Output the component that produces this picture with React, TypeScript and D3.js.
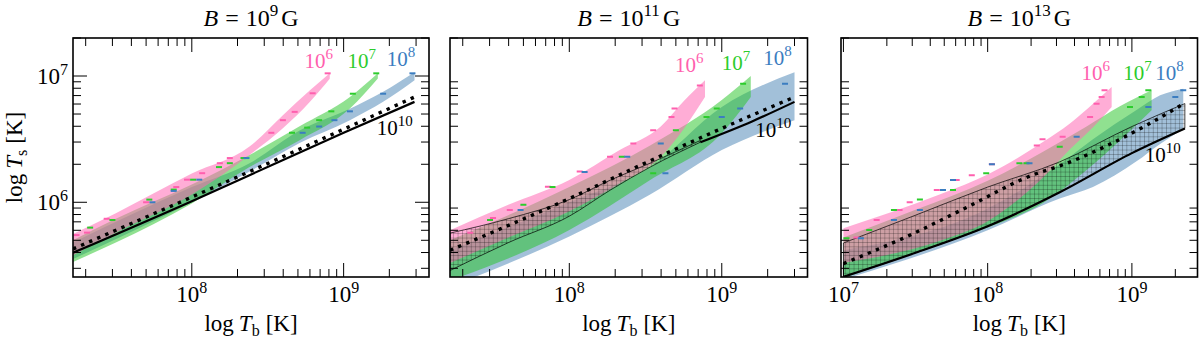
import React from "react";
import * as d3 from "d3";

const W = 1200;
const H = 339;
const FONT = "'Liberation Serif', 'DejaVu Serif', serif";

// frame geometry
const top = 38;
const bottom = 277;
const frames = [
  { left: 73, right: 429 },
  { left: 450, right: 807.5 },
  { left: 841, right: 1197.5 },
];

// axis domains (K)
const xDomainA = [1.65e7, 3.65e9];
const xDomainB = [9.62e6, 2.85e9];
const yDomain = [2.56e5, 2.0e7];

const titleExp = ["9", "11", "13"];

// ---- B = 1e9 G : [Tb, Ts low, Ts high]
const pink1 = [
  [1.65e7, 3.8e5, 5.6e5],
  [3.16e7, 5.75e5, 8.2e5],
  [1.0e8, 1.15e6, 1.69e6],
  [2.4e8, 2.37e6, 2.76e6],
  [3.98e8, 3.85e6, 4.9e6],
  [6.0e8, 6.24e6, 7.7e6],
  [8.1e8, 9.5e6, 1.05e7],
];
const green1 = [
  [1.65e7, 3.37e5, 5.0e5],
  [3.16e7, 4.8e5, 7.4e5],
  [1.0e8, 9.8e5, 1.38e6],
  [2.4e8, 1.9e6, 2.37e6],
  [5.13e8, 3.1e6, 4.0e6],
  [1.1e9, 5.52e6, 6.82e6],
  [1.68e9, 9.55e6, 1.05e7],
];
const blue1 = [
  [1.65e7, 3.55e5, 4.8e5],
  [1.0e8, 1.0e6, 1.32e6],
  [2.4e8, 1.75e6, 2.04e6],
  [5.13e8, 2.95e6, 3.7e6],
  [1.1e9, 4.47e6, 5.5e6],
  [1.82e9, 6.24e6, 7.5e6],
  [2.93e9, 9.25e6, 1.07e7],
];
const solid1 = [[1.65e7, 3.98e5], [1.0e8, 1.02e6], [2.4e8, 1.64e6], [1.0e9, 3.55e6], [2.93e9, 6.24e6]];
const dotted1 = [[1.65e7, 4.27e5], [1.0e8, 1.1e6], [2.4e8, 1.75e6], [1.0e9, 3.79e6], [2.93e9, 6.82e6]];
const hatch1: number[][] = [];
const pinkDash1 = [
  [7.85e8, 1.05e7], [6.25e8, 7.3e6], [4.76e8, 5.2e6], [3.98e8, 4.47e6], [3.34e8, 3.55e6],
  [1.78e8, 2.24e6], [1.53e8, 2.04e6], [1.17e8, 1.7e6], [9.3e7, 1.51e6], [7.9e7, 1.32e6],
  [5.0e7, 1.0e6], [2.75e7, 7.4e5], [2.04e7, 5.75e5], [1.74e7, 5.5e5],
];
const greenDash1 = [
  [1.64e9, 1.05e7], [1.15e9, 7.24e6], [8.3e8, 5.25e6], [6.9e8, 4.47e6], [5.75e8, 3.9e6],
  [4.57e8, 3.55e6], [2.19e8, 2.24e6], [1.78e8, 2.04e6], [1.51e8, 1.9e6], [1.02e8, 1.51e6],
  [7.6e7, 1.26e6], [5.25e7, 1.05e6], [3.0e7, 7.24e5], [2.14e7, 6.3e5],
];
const blueDash1 = [
  [2.84e9, 1.05e7], [1.82e9, 7.24e6], [1.1e9, 5.25e6], [8.7e8, 4.47e6], [5.37e8, 3.55e6],
  [6.9e8, 3.98e6], [2.29e8, 2.24e6], [1.12e8, 1.51e6], [7.6e7, 1.23e6], [5.5e7, 1.0e6],
];
// label anchors: [Tb, Ts] for 1e6, 1e7, 1e8, 1e10
const labels1 = [[5.53e8, 1.15e7], [1.06e9, 1.15e7], [1.92e9, 1.19e7], [1.65e9, 3.39e6]];

// ---- B = 1e11 G
const pink2 = [
  [1.65e7, 3.3e5, 6.0e5],
  [3.98e7, 5.25e5, 9.55e5],
  [1.0e8, 8.5e5, 1.5e6],
  [2.14e8, 1.41e6, 2.59e6],
  [3.98e8, 2.29e6, 3.98e6],
  [5.62e8, 3.8e6, 6.31e6],
  [7.76e8, 6.82e6, 9.25e6],
];
const green2 = [
  [1.65e7, 2.4e5, 5.0e5],
  [1.0e8, 6.03e5, 1.32e6],
  [3.39e8, 1.5e6, 2.82e6],
  [1.0e9, 3.52e6, 6.46e6],
  [1.55e9, 6.82e6, 1.0e7],
];
const blue2 = [
  [1.65e7, 2.14e5, 4.17e5],
  [1.0e8, 5.37e5, 1.0e6],
  [3.39e8, 1.15e6, 1.9e6],
  [1.0e9, 2.59e6, 5.69e6],
  [3.0e9, 4.47e6, 1.07e7],
];
const hatch2 = [
  [1.65e7, 2.88e5, 5.7e5],
  [3.98e7, 4.79e5, 7.41e5],
  [1.0e8, 7.76e5, 1.05e6],
  [1.86e8, 1.25e6, 1.5e6],
  [3.39e8, 1.9e6, 2.04e6],
  [7.24e8, 2.99e6, 3.09e6],
];
const solid2 = [[7.24e8, 2.99e6], [1.58e9, 4.37e6], [3.0e9, 6.24e6]];
const dotted2 = [[1.65e7, 4.17e5], [1.0e8, 1.07e6], [3.02e8, 2.0e6], [9.77e8, 3.8e6], [2.95e9, 6.76e6]];
const pinkDash2 = [
  [7.18e8, 8.43e6], [4.9e8, 5.52e6], [4.68e8, 4.74e6], [3.55e8, 3.72e6], [2.63e8, 2.92e6],
  [1.85e8, 2.29e6], [1.17e8, 1.75e6], [7.24e7, 1.33e6], [4.07e7, 8.7e5], [3.16e7, 7.5e5],
  [2.24e7, 5.75e5],
];
const greenDash2 = [
  [1.38e9, 8.7e6], [9.27e8, 5.52e6], [7.94e8, 4.74e6], [5.0e8, 3.72e6], [3.55e8, 1.7e6],
  [2.21e8, 2.29e6], [7.76e7, 1.32e6], [5.0e7, 9.55e5], [3.02e7, 7.24e5],
];
const blueDash2 = [
  [2.6e9, 8.7e6], [1.32e9, 5.52e6], [1.0e9, 4.74e6], [3.98e8, 2.92e6], [4.27e8, 1.7e6],
  [2.4e8, 2.29e6], [1.26e8, 1.74e6], [4.79e7, 8.7e5],
];
const labels2 = [[4.93e8, 1.07e7], [1.0e9, 1.11e7], [1.87e9, 1.22e7], [1.66e9, 3.3e6]];

// ---- B = 1e13 G
const pink3 = [
  [1.0e7, 3.31e5, 6.24e5],
  [4.79e7, 5.0e5, 1.17e6],
  [1.0e8, 7.08e5, 1.66e6],
  [2.43e8, 1.58e6, 3.01e6],
  [3.72e8, 2.63e6, 4.21e6],
  [5.4e8, 3.95e6, 6.05e6],
  [7.24e8, 5.69e6, 8.18e6],
];
const green3 = [
  [1.0e7, 2.51e5, 5.25e5],
  [3.16e7, 3.98e5, 8.71e5],
  [1.0e8, 6.31e5, 1.48e6],
  [2.42e8, 9.86e5, 2.51e6],
  [4.85e8, 1.8e6, 3.98e6],
  [8.26e8, 3.09e6, 5.75e6],
  [1.37e9, 5.36e6, 7.71e6],
];
const blue3 = [
  [1.0e7, 2.45e5, 4.17e5],
  [1.0e8, 6.0e5, 8.91e5],
  [3.16e8, 1.07e6, 2.0e6],
  [5.37e8, 1.32e6, 3.16e6],
  [1.07e9, 2.1e6, 5.36e6],
  [1.57e9, 2.9e6, 7.03e6],
  [2.27e9, 3.8e6, 7.94e6],
];
const hatch3 = [
  [1.0e7, 2.57e5, 4.76e5],
  [3.16e7, 3.98e5, 7.9e5],
  [1.0e8, 6.46e5, 1.32e6],
  [3.16e8, 1.2e6, 2.09e6],
  [1.0e9, 2.45e6, 3.98e6],
  [2.33e9, 3.84e6, 6.05e6],
];
const solid3 = [[1.0e7, 2.57e5], [3.16e7, 3.98e5], [1.0e8, 6.46e5], [3.16e8, 1.2e6], [1.0e9, 2.45e6], [2.33e9, 3.84e6]];
const dotted3 = [[1.0e7, 3.27e5], [2.82e7, 5.42e5], [6.97e7, 8.97e5], [2.04e8, 1.64e6], [3.16e8, 1.94e6], [1.26e9, 4.07e6], [2.21e9, 5.89e6]];
const pinkDash3 = [
  [6.46e8, 7.7e6], [6.17e8, 6.82e6], [5.69e8, 6.03e6], [5.13e8, 4.74e6], [3.31e8, 3.3e6],
  [2.4e8, 3.16e6], [2.19e8, 2.82e6], [1.07e8, 2.0e6], [7.76e7, 1.64e6], [6.1e7, 1.5e6],
  [4.44e7, 1.25e6], [2.88e7, 1.0e6], [2.45e7, 8.7e5], [1.7e7, 7.24e5], [1.23e7, 5.25e5],
];
const greenDash3 = [
  [1.3e9, 7.7e6], [1.17e9, 6.82e6], [9.7e8, 5.69e6], [3.16e8, 2.75e6], [1.86e8, 2.04e6],
  [1.66e8, 2.04e6], [9.77e7, 1.7e6], [5.75e7, 1.25e6], [3.39e7, 1.05e6], [2.24e7, 8.7e5],
  [1.51e7, 6.03e5], [1.05e7, 5.19e5],
];
const blueDash3 = [
  [2.27e9, 7.7e6], [2.0e9, 6.82e6], [1.3e9, 5.69e6], [4.14e8, 3.3e6], [1.95e8, 2.04e6],
  [1.07e8, 2.0e6], [5.75e7, 1.5e6], [4.9e7, 1.25e6], [3.39e7, 8.7e5], [2.24e7, 7.24e5],
  [1.32e7, 5.19e5],
];
const labels3 = [[4.48e8, 9.25e6], [8.71e8, 9.25e6], [1.45e9, 9.25e6], [1.23e9, 2.09e6]];

const seriesExp = ["6", "7", "8", "10"];

const PINK = "#ff69b4";
const GREEN = "#22c322";
const BLUE = "#4682b4";
const PINK_TXT = "#ff5fae";
const GREEN_TXT = "#2ccc2c";
const BLUE_TXT = "#3b7dc0";

const panelsData = [
  { pink: pink1, green: green1, blue: blue1, hatch: hatch1, solid: solid1, dotted: dotted1,
    dashes: [pinkDash1, greenDash1, blueDash1], labels: labels1, xDomain: xDomainA, xLabels: [1e8, 1e9] },
  { pink: pink2, green: green2, blue: blue2, hatch: hatch2, solid: solid2, dotted: dotted2,
    dashes: [pinkDash2, greenDash2, blueDash2], labels: labels2, xDomain: xDomainA, xLabels: [1e8, 1e9] },
  { pink: pink3, green: green3, blue: blue3, hatch: hatch3, solid: solid3, dotted: dotted3,
    dashes: [pinkDash3, greenDash3, blueDash3], labels: labels3, xDomain: xDomainB, xLabels: [1e7, 1e8, 1e9] },
];

const Pow = ({ exp, sup = 15, shift = 9 }: { exp: string; sup?: number; shift?: number }) => (
  <>
    <tspan>10</tspan>
    <tspan fontSize={sup} dy={-shift}>{exp}</tspan>
  </>
);

function Panel({ idx }: { idx: number }) {
  const p = panelsData[idx];
  const f = frames[idx];
  const x = d3.scaleLog().domain(p.xDomain).range([f.left, f.right]);
  const y = d3.scaleLog().domain(yDomain).range([bottom, top]);

  const area = d3
    .area<number[]>()
    .x((d) => x(d[0]))
    .y0((d) => y(d[1]))
    .y1((d) => y(d[2]))
    .curve(d3.curveMonotoneX);
  const line = d3
    .line<number[]>()
    .x((d) => x(d[0]))
    .y((d) => y(d[1]))
    .curve(d3.curveMonotoneX);

  const clipId = `clip${idx}`;
  const dashColors = [PINK_TXT, GREEN_TXT, BLUE_TXT];
  const labelColors = [PINK_TXT, GREEN_TXT, BLUE_TXT, "#000"];

  const xt = x.ticks();
  const yt = y.ticks();
  const isMajor = (v: number) => Math.abs(Math.log10(v) - Math.round(Math.log10(v))) < 1e-6;
  const cx = (f.left + f.right) / 2;

  return (
    <g>
      <clipPath id={clipId}>
        <rect x={f.left} y={top} width={f.right - f.left} height={bottom - top} />
      </clipPath>
      <g clipPath={`url(#${clipId})`}>
        <path d={area(p.blue) || ""} fill={BLUE} fillOpacity={0.5} />
        <path d={area(p.green) || ""} fill={GREEN} fillOpacity={0.5} />
        <path d={area(p.pink) || ""} fill={PINK} fillOpacity={0.55} />
        {p.hatch.length > 0 && (
          <path d={area(p.hatch) || ""} fill="url(#hatch)" stroke="#000" strokeWidth={0.7} />
        )}
        <path d={line(p.solid) || ""} fill="none" stroke="#000" strokeWidth={2.2} />
        <path
          d={line(p.dotted) || ""}
          fill="none"
          stroke="#000"
          strokeWidth={3.4}
          strokeDasharray="3.4 5.4"
        />
        {p.dashes.map((set, si) =>
          set.map((d, i) => (
            <line
              key={`${si}-${i}`}
              x1={x(d[0]) - 3}
              x2={x(d[0]) + 3}
              y1={y(d[1])}
              y2={y(d[1])}
              stroke={dashColors[si]}
              strokeWidth={2}
            />
          ))
        )}
      </g>

      {/* series labels */}
      {p.labels.map((d, i) => (
        <text key={i} x={x(d[0])} y={y(d[1])} fontSize={21} fill={labelColors[i]} fontFamily={FONT}>
          <Pow exp={seriesExp[i]} sup={15} shift={9} />
        </text>
      ))}

      {/* ticks */}
      {xt.map((v, i) => {
        const len = isMajor(v) ? 14 : 8;
        const px = x(v);
        if (px < f.left + 0.5 || px > f.right - 0.5) return null;
        return (
          <g key={`xt${i}`} stroke="#000" strokeWidth={1}>
            <line x1={px} x2={px} y1={bottom} y2={bottom - len} />
            <line x1={px} x2={px} y1={top} y2={top + len} />
          </g>
        );
      })}
      {yt.map((v, i) => {
        const major = isMajor(v);
        if (major && idx > 0) return null;
        const len = major ? 14 : 8;
        const py = y(v);
        return (
          <g key={`yt${i}`} stroke="#000" strokeWidth={1}>
            <line x1={f.left} x2={f.left + len} y1={py} y2={py} />
            <line x1={f.right} x2={f.right - len} y1={py} y2={py} />
          </g>
        );
      })}

      <rect
        x={f.left}
        y={top}
        width={f.right - f.left}
        height={bottom - top}
        fill="none"
        stroke="#000"
        strokeWidth={1.6}
      />

      {/* tick labels */}
      {p.xLabels.map((v, i) => (
        <text
          key={`xl${i}`}
          x={x(v)}
          y={bottom + 25}
          fontSize={23}
          textAnchor="middle"
          fontFamily={FONT}
        >
          <Pow exp={String(Math.round(Math.log10(v)))} sup={16} shift={9} />
        </text>
      ))}
      {idx === 0 &&
        [1e6, 1e7].map((v, i) => (
          <text
            key={`yl${i}`}
            x={f.left - 5}
            y={y(v) + 8}
            fontSize={23}
            textAnchor="end"
            fontFamily={FONT}
          >
            <Pow exp={String(Math.round(Math.log10(v)))} sup={16} shift={9} />
          </text>
        ))}

      {/* title */}
      <text x={cx} y={26} fontSize={24} textAnchor="middle" fontFamily={FONT}>
        <tspan fontStyle="italic">B</tspan>
        <tspan dx={7}>=</tspan>
        <tspan dx={7}>10</tspan>
        <tspan fontSize={17} dy={-10}>{titleExp[idx]}</tspan>
        <tspan dy={10} dx={3}>G</tspan>
      </text>

      {/* x axis label */}
      <text x={cx} y={331} fontSize={23} textAnchor="middle" fontFamily={FONT}>
        <tspan>log</tspan>
        <tspan dx={5} fontStyle="italic">T</tspan>
        <tspan fontSize={16} dy={5}>b</tspan>
        <tspan dy={-5} dx={6}>[K]</tspan>
      </text>
    </g>
  );
}

export default function App() {
  return (
    <div style={{ position: "absolute", left: 0, top: 0 }}>
      <svg width={W} height={H} style={{ display: "block", background: "#fff" }}>
        <defs>
          <pattern id="hatch" patternUnits="userSpaceOnUse" width={4.4} height={4.4}>
            <path d="M0 0 H4.4 M0 0 V4.4" stroke="#000" strokeWidth={0.6} strokeOpacity={0.75} />
          </pattern>
        </defs>
        {frames.map((_, i) => (
          <Panel key={i} idx={i} />
        ))}
        <text
          transform={`translate(22, ${(top + bottom) / 2}) rotate(-90)`}
          fontSize={23}
          textAnchor="middle"
          fontFamily={FONT}
        >
          <tspan>log</tspan>
          <tspan dx={5} fontStyle="italic">T</tspan>
          <tspan fontSize={16} dy={5}>s</tspan>
          <tspan dy={-5} dx={6}>[K]</tspan>
        </text>
      </svg>
    </div>
  );
}
